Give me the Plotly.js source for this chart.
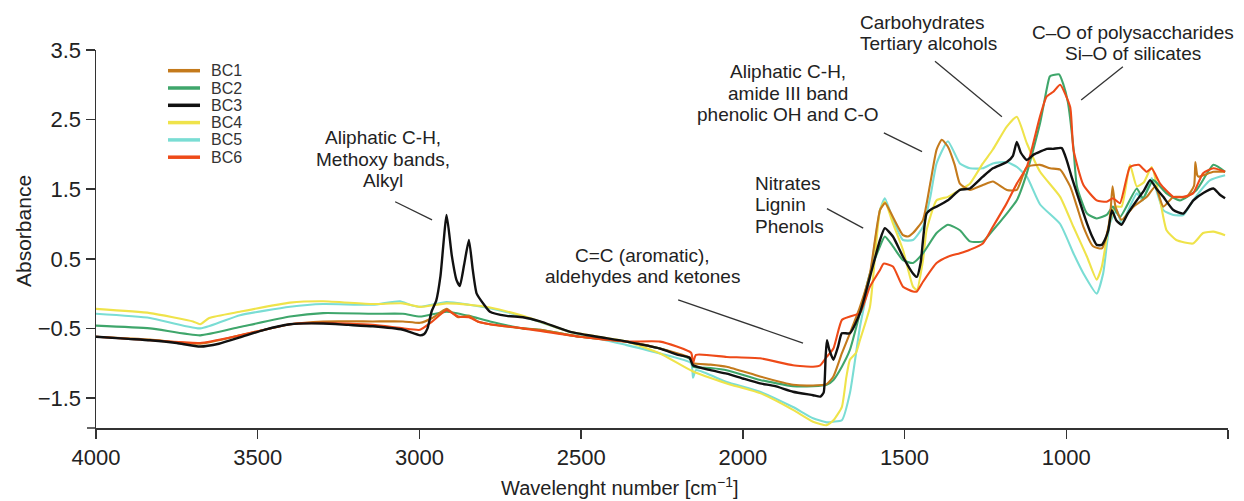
<!DOCTYPE html>
<html>
<head>
<meta charset="utf-8">
<script src="https://cdn.plot.ly/plotly-3.0.1.min.js"></script>
<style>
  html, body { margin: 0; padding: 0; background: #ffffff; }
  #chart { width: 1244px; height: 501px; }
</style>
</head>
<body>
<div id="chart"></div>
<script>
// ---------------- DATA ----------------
const seriesNames = ["BC1", "BC2", "BC3", "BC4", "BC5", "BC6"];
const seriesColors = ["#C47A1C", "#3FA66B", "#111111", "#EFE34A", "#7ADDD4", "#EE4A18"];

const bc1Wn = [4000,3833,3678,3555,3400,3298,3144,3051,2998,2960,2916,2880,2847,2820,2782,2680,2627,2504,2359,2256,2160,2154,2100,2050,1947,1845,1783,1741,1720,1694,1669,1638,1607,1576,1560,1536,1505,1490,1474,1443,1420,1401,1385,1366,1345,1329,1298,1258,1227,1184,1153,1122,1081,1050,1019,988,967,947,917,890,870,863,857,848,829,792,751,725,700,669,628,605,601,595,591,545,509];
const bc1Abs = [-0.62,-0.66,-0.72,-0.60,-0.44,-0.40,-0.40,-0.40,-0.42,-0.35,-0.22,-0.34,-0.32,-0.40,-0.44,-0.50,-0.52,-0.62,-0.69,-0.79,-0.93,-1.00,-1.02,-1.05,-1.19,-1.31,-1.32,-1.30,-1.19,-0.86,-0.57,-0.19,0.29,1.20,1.30,1.10,0.84,0.82,0.87,1.06,1.60,2.07,2.21,2.11,1.85,1.58,1.49,1.56,1.61,1.49,1.49,1.82,1.85,1.80,1.78,1.54,1.25,0.96,0.68,0.65,0.95,1.20,1.54,1.25,1.06,1.25,1.39,1.54,1.25,1.39,1.39,1.55,1.89,1.70,1.68,1.75,1.75];

const bc2Wn = [4000,3833,3678,3555,3400,3298,3144,3051,2998,2916,2847,2782,2680,2627,2504,2359,2256,2160,2154,2100,2050,1947,1845,1783,1741,1720,1694,1669,1638,1607,1576,1561,1536,1505,1474,1443,1401,1366,1329,1298,1258,1227,1184,1153,1122,1081,1060,1051,1040,1022,1010,995,978,967,936,906,875,856,834,782,763,731,690,649,597,545,509];
const bc2Abs = [-0.46,-0.50,-0.60,-0.48,-0.33,-0.28,-0.29,-0.29,-0.33,-0.26,-0.32,-0.40,-0.50,-0.52,-0.62,-0.69,-0.79,-0.95,-1.05,-1.07,-1.10,-1.24,-1.33,-1.33,-1.31,-1.24,-1.05,-0.81,-0.28,0.29,0.68,0.82,0.68,0.48,0.44,0.58,0.87,0.99,0.91,0.75,0.75,0.91,1.15,1.34,1.73,2.45,2.95,3.12,3.14,3.15,3.02,2.75,2.10,1.54,1.15,1.08,1.13,1.25,1.10,1.51,1.37,1.63,1.44,1.34,1.49,1.85,1.75];

const bc3Wn = [4000,3900,3833,3750,3678,3620,3555,3480,3400,3298,3220,3144,3051,2998,2985,2975,2962,2948,2935,2916,2900,2885,2875,2862,2847,2835,2823,2800,2782,2730,2680,2627,2534,2450,2359,2256,2200,2165,2154,2100,2050,2000,1947,1900,1845,1783,1760,1750,1744,1740,1733,1720,1705,1694,1669,1638,1607,1576,1561,1536,1505,1474,1462,1450,1443,1432,1415,1401,1366,1329,1298,1258,1227,1184,1165,1153,1140,1122,1100,1081,1060,1041,1014,999,985,967,950,936,920,906,890,880,870,859,845,829,810,782,760,741,720,700,669,638,607,575,545,525,509];
const bc3Abs = [-0.62,-0.65,-0.67,-0.71,-0.76,-0.72,-0.63,-0.52,-0.44,-0.43,-0.45,-0.47,-0.52,-0.60,-0.58,-0.50,-0.25,-0.10,0.25,1.13,0.55,0.19,0.11,0.41,0.77,0.34,0.00,-0.16,-0.26,-0.32,-0.34,-0.40,-0.55,-0.62,-0.69,-0.79,-0.88,-0.92,-1.03,-1.10,-1.15,-1.22,-1.29,-1.33,-1.41,-1.46,-1.48,-1.42,-0.90,-0.67,-0.80,-0.95,-0.75,-0.57,-0.57,-0.28,0.24,0.77,0.94,0.82,0.53,0.29,0.24,0.45,0.77,1.15,1.22,1.25,1.34,1.49,1.51,1.68,1.80,1.89,1.98,2.18,2.02,1.92,2.00,2.04,2.08,2.08,2.09,1.92,1.70,1.44,1.20,1.01,0.82,0.70,0.70,0.78,0.91,1.20,1.05,0.99,1.15,1.34,1.48,1.63,1.50,1.39,1.20,1.15,1.34,1.45,1.51,1.42,1.37];

const bc4Wn = [4000,3833,3700,3678,3650,3555,3400,3298,3144,3051,2998,2916,2847,2782,2680,2534,2359,2256,2154,2050,1947,1845,1783,1741,1720,1694,1680,1669,1650,1638,1607,1576,1561,1536,1505,1474,1462,1443,1432,1401,1366,1329,1298,1258,1227,1184,1153,1122,1081,1019,978,936,906,890,869,850,829,803,782,760,736,710,690,660,608,577,545,509];
const bc4Abs = [-0.22,-0.28,-0.40,-0.44,-0.35,-0.26,-0.13,-0.11,-0.15,-0.14,-0.19,-0.14,-0.16,-0.20,-0.32,-0.55,-0.69,-0.86,-1.12,-1.29,-1.43,-1.67,-1.84,-1.89,-1.82,-1.63,-1.20,-0.95,-0.85,-0.67,-0.19,1.20,1.32,1.01,0.63,0.10,0.05,0.48,0.91,1.34,1.39,1.49,1.58,1.87,2.07,2.40,2.54,2.16,1.75,1.39,0.96,0.53,0.20,0.39,0.96,1.25,1.25,1.85,1.54,1.60,1.82,1.34,0.91,0.77,0.72,0.87,0.89,0.84];

const bc5Wn = [4000,3833,3678,3555,3400,3298,3144,3060,3030,2998,2916,2847,2782,2680,2534,2359,2256,2160,2154,2145,2050,1947,1845,1783,1741,1720,1694,1669,1638,1607,1576,1561,1536,1505,1474,1443,1420,1401,1366,1329,1298,1258,1227,1184,1153,1122,1081,1019,978,947,906,886,865,844,829,782,763,736,700,669,638,608,555,509];
const bc5Abs = [-0.29,-0.35,-0.50,-0.31,-0.19,-0.15,-0.16,-0.11,-0.16,-0.19,-0.12,-0.16,-0.21,-0.33,-0.55,-0.74,-0.86,-1.00,-1.21,-1.10,-1.27,-1.41,-1.63,-1.79,-1.85,-1.84,-1.82,-1.43,-0.48,0.24,1.20,1.37,1.06,0.77,0.77,0.96,1.40,1.87,2.19,1.87,1.80,1.80,1.87,1.89,1.82,1.68,1.28,1.00,0.58,0.29,0.00,0.29,1.01,1.20,1.01,1.44,1.34,1.66,1.20,1.13,1.13,1.34,1.63,1.70];

const bc6Wn = [4000,3833,3678,3555,3400,3298,3144,3051,2998,2960,2916,2880,2847,2820,2782,2680,2504,2359,2256,2160,2154,2145,2050,1947,1845,1783,1761,1741,1720,1694,1669,1638,1607,1576,1565,1536,1505,1474,1462,1443,1401,1366,1329,1298,1258,1227,1184,1153,1122,1081,1061,1040,1019,988,978,947,906,875,856,834,803,776,751,736,710,669,638,608,577,545,509];
const bc6Abs = [-0.62,-0.67,-0.71,-0.60,-0.44,-0.42,-0.45,-0.50,-0.52,-0.40,-0.24,-0.33,-0.34,-0.40,-0.44,-0.50,-0.62,-0.69,-0.69,-0.85,-1.00,-0.88,-0.91,-0.93,-1.03,-1.05,-1.03,-0.91,-0.79,-0.38,-0.33,-0.28,0.10,0.34,0.43,0.39,0.10,0.03,0.03,0.17,0.44,0.53,0.58,0.63,0.72,0.96,1.30,1.58,1.82,2.55,2.83,2.90,3.00,2.68,2.07,1.56,1.34,1.32,1.37,1.30,1.82,1.85,1.75,1.80,1.58,1.39,1.39,1.44,1.73,1.80,1.75];

const xTickVals = [4000, 3500, 3000, 2500, 2000, 1500, 1000, 500];
const yTickVals = [-1.5, -0.5, 0.5, 1.5, 2.5, 3.5];

const xTitle = "Wavelenght number [cm<sup>−1</sup>]";
const yTitle = "Absorbance";

// band annotations: lines of text, anchor (wavenumber, absorbance) of first line, alignment, leader line
const bandNotes = [
  { lines: ["Aliphatic C-H,", "Methoxy bands,", "Alkyl"], wn: 3112, ab: 2.24, anchor: "center", leader: [3075, 1.32, 2961, 1.06] },
  { lines: ["C=C (aromatic),", "aldehydes and ketones"], wn: 2309, ab: 0.554, anchor: "center", leader: [2200, -0.09, 1814, -0.71] },
  { lines: ["Nitrates", "Lignin", "Phenols"], wn: 1969, ab: 1.589, anchor: "left", leader: [1740, 1.22, 1628, 0.94] },
  { lines: ["Aliphatic C-H,", "amide III band", "phenolic OH and C-O"], wn: 1860, ab: 3.184, anchor: "center", leader: [1564, 2.31, 1446, 2.04] },
  { lines: ["Carbohydrates", "Tertiary alcohols"], wn: 1644, ab: 3.902, anchor: "left", leader: [1406, 3.34, 1199, 2.54] },
  { lines: ["C–O of polysaccharides", "Si–O of silicates"], wn: 794, ab: 3.758, anchor: "center", leader: [825, 3.26, 954, 2.78] }
];

// ---------------- LAYOUT HELPERS ----------------
const W = 1244, H = 501;
const M = { l: 96, r: 16, t: 50, b: 73 };
const PW = W - M.l - M.r, PH = H - M.t - M.b;
const xRange = [4000, 500];
const yRange = [-1.931, 3.5];
const pxX = px => (px - M.l) / PW;          // pixel -> paper x
const pxY = py => (H - M.b - py) / PH;      // pixel -> paper y
const wnX = wn => (xRange[0] - wn) / (xRange[0] - xRange[1]);   // wavenumber -> paper x
const abY = ab => (ab - yRange[0]) / (yRange[1] - yRange[0]);   // absorbance -> paper y
const lineStep = 21.5 / PH;                 // 21.5 px line step in paper units

const FONT = "Liberation Sans, Arial, Helvetica, sans-serif";
const TXT = "#222222";

const wnList = [bc1Wn, bc2Wn, bc3Wn, bc4Wn, bc5Wn, bc6Wn];
const absList = [bc1Abs, bc2Abs, bc3Abs, bc4Abs, bc5Abs, bc6Abs];
const drawOrder = [4, 3, 1, 0, 5, 2];

const traces = drawOrder.map(i => ({
  type: "scatter",
  mode: "lines",
  name: seriesNames[i],
  x: wnList[i],
  y: absList[i],
  line: { color: seriesColors[i], width: i === 2 ? 2.4 : 2.1, shape: "spline", smoothing: 0.5 },
  hoverinfo: "x+y+name",
  showlegend: false
}));

const annotations = [];
const shapes = [];

bandNotes.forEach(n => {
  n.lines.forEach((t, k) => {
    annotations.push({
      xref: "paper", yref: "paper", x: wnX(n.wn), y: abY(n.ab) - k * lineStep,
      text: t, showarrow: false, xanchor: n.anchor, yanchor: "middle",
      font: { family: FONT, size: 19, color: TXT }
    });
  });
  shapes.push({
    type: "line", xref: "x", yref: "y",
    x0: n.leader[0], y0: n.leader[1], x1: n.leader[2], y1: n.leader[3],
    line: { color: "#333333", width: 1.3 }
  });
});

// manual legend (tight spacing like the reference)
const legTop = 70.7, legStep = 17.3;
seriesNames.forEach((nm, i) => {
  const py = legTop + i * legStep;
  shapes.push({
    type: "line", xref: "paper", yref: "paper",
    x0: pxX(168), x1: pxX(200), y0: pxY(py), y1: pxY(py),
    line: { color: seriesColors[i], width: 3.5 }
  });
  annotations.push({
    xref: "paper", yref: "paper", x: pxX(209), y: pxY(py),
    text: nm, showarrow: false, xanchor: "left", yanchor: "middle",
    font: { family: FONT, size: 16, color: "#333333" }
  });
});

// axis titles
annotations.push({
  xref: "paper", yref: "paper", x: pxX(620), y: pxY(486),
  text: xTitle, showarrow: false, xanchor: "center", yanchor: "middle",
  font: { family: FONT, size: 20, color: TXT }
});
annotations.push({
  xref: "paper", yref: "paper", x: pxX(23), y: pxY(231),
  text: yTitle, showarrow: false, textangle: -90, xanchor: "center", yanchor: "middle",
  font: { family: FONT, size: 21, color: TXT }
});

// small extension of the bottom axis line to the left of the y axis
shapes.push({
  type: "line", xref: "paper", yref: "paper",
  x0: pxX(87), x1: 0, y0: 0, y1: 0,
  line: { color: "#333333", width: 1.5 }
});

const axisCommon = {
  showgrid: false, zeroline: false, showline: true,
  linecolor: "#333333", linewidth: 1.5,
  ticks: "outside", ticklen: 9, tickwidth: 1.5, tickcolor: "#333333",
  tickfont: { family: FONT, size: 22, color: TXT },
  fixedrange: true
};

const layout = {
  width: W, height: H,
  margin: M,
  paper_bgcolor: "#ffffff",
  plot_bgcolor: "#ffffff",
  font: { family: FONT, color: TXT },
  showlegend: false,
  xaxis: Object.assign({}, axisCommon, {
    range: xRange, tickmode: "array", tickvals: xTickVals,
    ticktext: xTickVals.map(String)
  }),
  yaxis: Object.assign({}, axisCommon, {
    range: yRange, tickmode: "array", tickvals: yTickVals,
    ticktext: yTickVals.map(v => (v < 0 ? "−" : "") + Math.abs(v).toFixed(1))
  }),
  annotations: annotations,
  shapes: shapes
};

Plotly.newPlot("chart", traces, layout, { displayModeBar: false, staticPlot: true });
</script>
</body>
</html>
